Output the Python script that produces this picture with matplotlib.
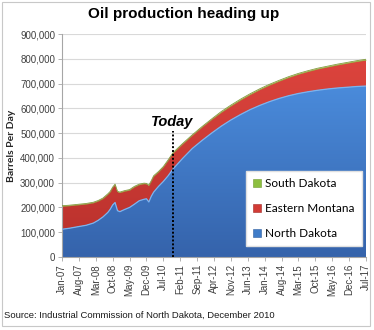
import numpy as np
import matplotlib
matplotlib.use("Agg")
import matplotlib.pyplot as plt
from matplotlib.patches import Patch, Rectangle
from matplotlib.colors import LinearSegmentedColormap

# Months since Jan-2007 and production in thousand barrels per day
months = [0, 3, 7, 10, 13, 15, 17, 19, 20, 21, 22, 23, 24, 26, 28, 30, 32, 34,
          35, 36, 37, 38, 40, 42, 44, 46, 50, 54, 58, 62, 66, 70, 74, 78, 82,
          86, 90, 94, 98, 102, 106, 110, 114, 118, 122, 126]
north_dakota = [112, 116, 123, 128, 137, 148, 162, 180, 193, 210, 220, 187, 183,
                192, 200, 213, 227, 233, 235, 222, 245, 262, 285, 305, 328, 355,
                398, 438, 470, 500, 528, 553, 575, 595, 612, 627, 640, 651, 660,
                667, 673, 678, 682, 685, 688, 690]
eastern_montana = [93, 91, 88, 86, 82, 78, 74, 73, 70, 70, 72, 76, 77, 74, 70,
                   70, 65, 63, 60, 66, 61, 64, 58, 58, 62, 64, 58, 53, 54, 55,
                   56, 57, 59, 61, 64, 67, 70, 74, 78, 82, 86, 89, 93, 97, 101,
                   105]
south_dakota = [2, 2, 2, 2, 2, 2, 2, 2, 2, 2, 2, 2, 2, 2, 2, 2, 2, 2, 2, 2, 2,
                2, 2, 2, 2, 2, 2, 2, 2, 2, 3, 3, 3, 3, 3, 3, 3, 3, 3, 3, 3, 3,
                3, 3, 3, 3]

tick_months = list(range(0, 127, 7))
tick_labels = ["Jan-07", "Aug-07", "Mar-08", "Oct-08", "May-09", "Dec-09",
               "Jul-10", "Feb-11", "Sep-11", "Apr-12", "Nov-12", "Jun-13",
               "Jan-14", "Aug-14", "Mar-15", "Oct-15", "May-16", "Dec-16",
               "Jul-17"]
y_ticks = [0, 100000, 200000, 300000, 400000, 500000, 600000, 700000, 800000,
           900000]
today_month = 45.8
today_top = 508000

x = np.array(months, dtype=float)
nd = np.array(north_dakota) * 1000.0
em = np.array(eastern_montana) * 1000.0
sd = np.array(south_dakota) * 1000.0

fig = plt.figure(figsize=(3.74, 3.30), dpi=100)
fig.patch.set_facecolor("white")
ax = fig.add_axes([62 / 374, 1 - 257 / 330, 304 / 374, 223 / 330])

ax.set_xlim(0, 126)
ax.set_ylim(0, 900000)

for yv in y_ticks[1:]:
    ax.axhline(yv, color="#d9d9d9", lw=0.8, zorder=0)


def gradient_fill(lower, upper, c_top, c_bottom, zorder):
    poly = ax.fill_between(x, lower, upper, facecolor="none", edgecolor="none",
                           zorder=zorder)
    cmap = LinearSegmentedColormap.from_list("g", [c_bottom, c_top])
    grad = np.linspace(0, 1, 256).reshape(-1, 1)
    top = upper.max()
    im = ax.imshow(grad, cmap=cmap, aspect="auto", origin="lower",
                   extent=[0, 126, 0, top], zorder=zorder,
                   interpolation="bilinear")
    im.set_clip_path(poly.get_paths()[0], transform=ax.transData)
    return poly


gradient_fill(np.zeros_like(nd), nd, "#4a8bdb", "#3563ab", 2)
gradient_fill(nd, nd + em, "#dc443d", "#b8302c", 2)
ax.fill_between(x, nd + em, nd + em + sd, color="#8cbf3f", lw=0, zorder=3)
ax.plot(x, nd, color="#7ab4f0", lw=0.9, zorder=3)
ax.plot(x, nd + em + sd, color="#7f9a3a", lw=0.6, zorder=3)

ax.set_xlim(0, 126)
ax.set_ylim(0, 900000)

# "Today" marker
ax.plot([today_month, today_month], [0, today_top], color="black", lw=1.4,
        ls=(0, (1, 1)), zorder=5)
ax.text(today_month, 544000, "Today", ha="center", va="center",
        fontsize=10.5, fontweight="bold", fontstyle="italic",
        family="Liberation Sans", zorder=6)

ax.set_yticks(y_ticks)
ax.set_yticklabels([f"{v:,}" for v in y_ticks], family="Liberation Sans",
                   fontsize=7, color="#404040")
ax.set_xticks(tick_months)
ax.set_xticklabels(tick_labels, rotation=90, family="Liberation Sans",
                   fontsize=7, color="#404040")
ax.tick_params(axis="both", length=3, width=0.6, color="#a6a6a6", pad=2)

for side in ["top", "right"]:
    ax.spines[side].set_visible(False)
for side in ["left", "bottom"]:
    ax.spines[side].set_color("#a6a6a6")
    ax.spines[side].set_linewidth(0.8)

ax.set_ylabel("Barrels Per Day", family="Lato", fontweight="bold",
              fontsize=7.5, color="#262626")
ax.yaxis.set_label_coords(-0.15, 0.5)

handles = [Patch(facecolor="#8cbf3f", edgecolor="#6f9a30", lw=0.4),
           Patch(facecolor="#d23b35", edgecolor="#a02a26", lw=0.4),
           Patch(facecolor="#3f7cc8", edgecolor="#2f5f9f", lw=0.4)]
leg = ax.legend(handles, ["South Dakota", "Eastern Montana", "North Dakota"],
                loc="lower right", bbox_to_anchor=(0.987, 0.049),
                prop={"family": "Lato", "size": 8.5}, frameon=True,
                fancybox=False, edgecolor="#e0e0e0", framealpha=1,
                handlelength=0.65, handleheight=0.65, handletextpad=0.35,
                labelspacing=1.16, borderpad=0.62, borderaxespad=0)
leg.set_zorder(10)

fig.text(184 / 374, 1 - 14 / 330, "Oil production heading up", ha="center",
         va="center", fontsize=11, fontweight="bold", family="Liberation Sans")
fig.text(4 / 374, 1 - 315 / 330,
         "Source: Industrial Commission of North Dakota, December 2010",
         ha="left", va="center", fontsize=6.8, family="Liberation Sans",
         color="#1a1a1a")

fig.patches.append(Rectangle((1.5 / 374, 4 / 330), 368 / 374, 324 / 330,
                             transform=fig.transFigure, fill=False,
                             edgecolor="#c8c8c8", lw=0.8))

fig.savefig("out.png", dpi=100)
